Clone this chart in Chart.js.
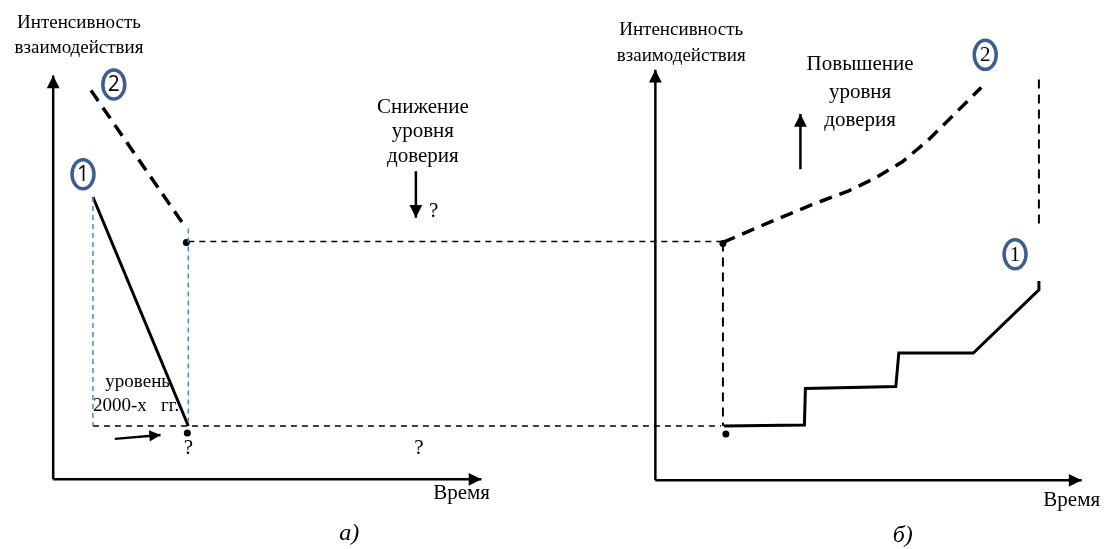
<!DOCTYPE html>
<html lang="ru">
<head>
<meta charset="utf-8">
<title>Интенсивность взаимодействия</title>
<script src="https://cdn.jsdelivr.net/npm/chart.js@4.4.1/dist/chart.umd.min.js"></script>
<style>
  html, body { margin: 0; padding: 0; background: #fff; }
  #wrap { width: 1107px; height: 549px; position: relative; }
</style>
</head>
<body>
<div id="wrap"><canvas id="scheme"></canvas></div>
<script>
// ================================================================
// DATA (x to the right, y downwards, same units as the picture)
// ================================================================

// panel a)
const axisAUp = [[50, 482], [50, 73]];
const axisARight = [[50, 482], [481, 482]];
const curve1A = [[90, 196], [186, 428]];
const curve2A = [[88, 88], [184, 228]];
const guideA1 = [[90, 196], [90, 428]];
const guideA2 = [[186, 228], [186, 428]];
const shiftArrowA = [[112, 441], [158, 437]];
const fallArrow = [[415, 170], [415, 217]];
const dotsA = [[184, 242], [185, 435]];

// levels carried over from a) to b)
const upperLevel = [[186, 241], [722, 241]];
const lowerLevel = [[90, 428], [722, 428]];

// panel b)
const axisBUp = [[656, 483], [656, 67]];
const axisBRight = [[656, 483], [1085, 483]];
const curve1B = [[725, 428], [806, 427], [807, 390], [898, 388], [901, 354], [976, 354], [1042, 290], [1042, 281]];
const curve2B = [[724, 242], [770, 222], [813, 204], [850, 190], [877, 177], [905, 160], [930, 139], [957, 112], [984, 85]];
const jumpB = [[724, 242], [724, 428]];
const gapB = [[1042, 77], [1042, 228]];
const riseArrow = [[802, 168], [802, 112]];
const dotsB = [[724, 243], [727, 436]];

// numbered curve markers: [x, y, label]
const markers = [[80, 173, '1'], [111, 82, '2'], [1018, 254, '1'], [988, 52, '2']];

// texts
const titleLines = ['Интенсивность', 'взаимодействия'];
const fallLines = ['Снижение', 'уровня', 'доверия'];
const riseLines = ['Повышение', 'уровня', 'доверия'];
const levelLines = ['уровень', '2000-х   гг.'];
const timeLabel = 'Время';
const panelLabels = ['а)', 'б)'];

// ================================================================
// HELPERS
// ================================================================
function toXY(points) {
    return points.map(([x, y]) => ({ x, y }));
}

function line(points, style) {
    return Object.assign({
        data: toXY(points),
        showLine: true,
        pointRadius: 0,
        pointHoverRadius: 0,
        fill: false,
        tension: 0,
        borderColor: '#000',
        borderWidth: 2
    }, style);
}

const BLUE_RING = '#3d5e8e';
const BLUE_GUIDE = '#4a86c8';

const datasets = [
    line(axisAUp, { borderWidth: 2.5, arrowSize: 8 }),
    line(axisARight, { borderWidth: 2.5, arrowSize: 8 }),
    line(axisBUp, { borderWidth: 2.5, arrowSize: 8 }),
    line(axisBRight, { borderWidth: 2.5, arrowSize: 8 }),
    line(guideA1, { borderColor: BLUE_GUIDE, borderWidth: 1.5, borderDash: [5, 4] }),
    line(guideA2, { borderColor: BLUE_GUIDE, borderWidth: 1.5, borderDash: [5, 4] }),
    line(upperLevel, { borderWidth: 1.5, borderDash: [6, 5] }),
    line(lowerLevel, { borderWidth: 1.5, borderDash: [6, 5] }),
    line(curve1A, { borderWidth: 3 }),
    line(curve2A, { borderWidth: 3.5, borderDash: [13, 8] }),
    line(jumpB, { borderWidth: 2, borderDash: [9, 6] }),
    line(gapB, { borderWidth: 2, borderDash: [9, 6] }),
    line(curve1B, { borderWidth: 3 }),
    line(curve2B, { borderWidth: 3.5, borderDash: [13, 8] }),
    line(shiftArrowA, { borderWidth: 2.5, arrowSize: 7 }),
    line(fallArrow, { borderWidth: 2.5, arrowSize: 8 }),
    line(riseArrow, { borderWidth: 2.5, arrowSize: 8 }),
    { data: toXY(dotsA.concat(dotsB)), showLine: false, pointRadius: 3.5, pointHoverRadius: 3.5,
      backgroundColor: '#000', borderColor: '#000', borderWidth: 0 }
];

// ================================================================
// PLUGINS
// ================================================================
const arrowHeads = {
    id: 'arrowHeads',
    afterDatasetsDraw(chart) {
        const ctx = chart.ctx;
        chart.data.datasets.forEach((ds, i) => {
            if (!ds.arrowSize) return;
            const pts = chart.getDatasetMeta(i).data;
            const tip = pts[pts.length - 1];
            const prev = pts[pts.length - 2];
            const ang = Math.atan2(tip.y - prev.y, tip.x - prev.x);
            const len = ds.arrowSize * 1.6;
            const half = ds.arrowSize * 0.8;
            ctx.save();
            ctx.translate(tip.x, tip.y);
            ctx.rotate(ang);
            ctx.beginPath();
            ctx.moveTo(0, 0);
            ctx.lineTo(-len, -half);
            ctx.lineTo(-len, half);
            ctx.closePath();
            ctx.fillStyle = '#000';
            ctx.fill();
            ctx.restore();
        });
    }
};

const schemeText = {
    id: 'schemeText',
    afterDatasetsDraw(chart) {
        const ctx = chart.ctx;
        const sx = chart.scales.x, sy = chart.scales.y;
        const put = (txt, x, y, font, align) => {
            ctx.font = font;
            ctx.textAlign = align || 'center';
            ctx.textBaseline = 'middle';
            ctx.fillStyle = '#000';
            ctx.fillText(txt, sx.getPixelForValue(x), sy.getPixelForValue(y));
        };
        const serif = '19px "Liberation Serif", "Times New Roman", serif';
        const serifBig = '21px "Liberation Serif", "Times New Roman", serif';

        ctx.save();
        // axis titles
        titleLines.forEach((t, k) => put(t, 76, 20 + k * 25, serif));
        titleLines.forEach((t, k) => put(t, 682, 27 + k * 26, serif));
        put(timeLabel, 461, 496, serifBig);
        put(timeLabel, 1075, 503, serifBig);

        // comments
        fallLines.forEach((t, k) => put(t, 422, 105 + k * 25, serifBig));
        riseLines.forEach((t, k) => put(t, 862, 62 + k * 28, serifBig));
        put(levelLines[0], 135, 383, serif);
        put(levelLines[1], 90, 408, serif, 'left');
        put('?', 433, 211, serifBig);
        put('?', 186, 451, serifBig);
        put('?', 418, 451, serifBig);

        // panel captions
        put(panelLabels[0], 348, 537, 'italic 24px "Liberation Serif", serif');
        put(panelLabels[1], 905, 539, 'italic 24px "Liberation Serif", serif');

        // numbered rings
        markers.forEach(([x, y, label], k) => {
            const px = sx.getPixelForValue(x), py = sy.getPixelForValue(y);
            ctx.beginPath();
            ctx.ellipse(px, py, 11, 14.5, 0, 0, Math.PI * 2);
            ctx.fillStyle = '#fff';
            ctx.fill();
            ctx.lineWidth = 3.5;
            ctx.strokeStyle = BLUE_RING;
            ctx.stroke();
            const font = k < 2 ? '21px "Open Sans", "DejaVu Sans", sans-serif'
                               : '21px "Liberation Serif", serif';
            put(label, x, y + 1, font);
        });
        ctx.restore();
    }
};

// ================================================================
// CHART
// ================================================================
new Chart(document.getElementById('scheme').getContext('2d'), {
    type: 'scatter',
    data: { datasets },
    options: {
        responsive: true,
        maintainAspectRatio: false,
        animation: false,
        events: [],
        layout: { padding: 0 },
        scales: {
            x: { type: 'linear', min: 0, max: 1107, display: false },
            y: { type: 'linear', min: 0, max: 549, reverse: true, display: false }
        },
        plugins: {
            legend: { display: false },
            tooltip: { enabled: false }
        }
    },
    plugins: [arrowHeads, schemeText]
});
</script>
</body>
</html>
